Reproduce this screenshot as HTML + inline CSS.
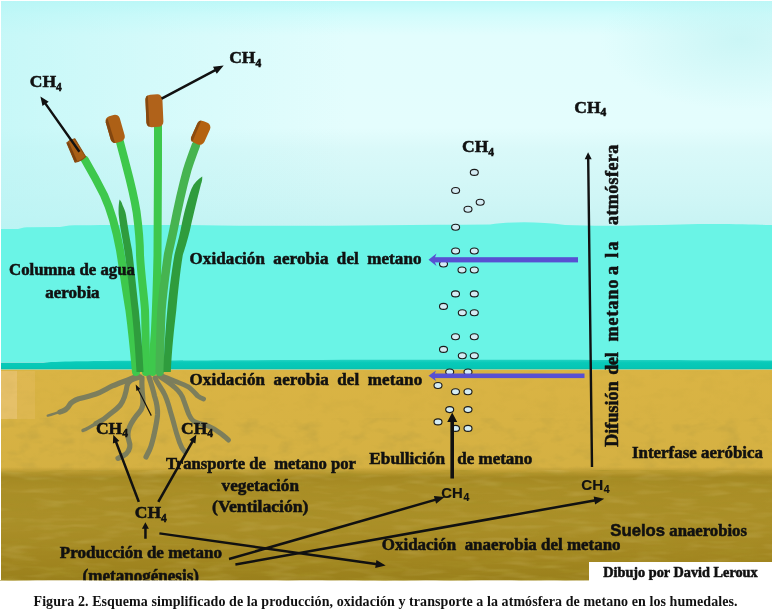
<!DOCTYPE html>
<html><head><meta charset="utf-8">
<style>
html,body{margin:0;padding:0;background:#fff;}
body{width:773px;height:611px;position:relative;overflow:hidden;}
svg{position:absolute;left:0;top:0;filter:blur(0.35px);}
text{font-family:"Liberation Serif",serif;font-weight:bold;fill:#111;stroke:#111;stroke-width:0.55px;}
.s{font-family:"Liberation Sans",sans-serif;font-weight:bold;stroke-width:0.15px;}
</style></head><body>
<svg width="773" height="611" viewBox="0 0 773 611">
<defs>
<linearGradient id="sky" x1="0" y1="0" x2="0" y2="1">
<stop offset="0" stop-color="#bff9f9"/>
<stop offset="0.06" stop-color="#d2fcfc"/>
<stop offset="0.15" stop-color="#e2fdfd"/>
<stop offset="0.55" stop-color="#e4fdfd"/>
<stop offset="0.64" stop-color="#daf9f9"/>
<stop offset="0.85" stop-color="#d0f6f6"/>
<stop offset="1" stop-color="#c6f3f3"/>
</linearGradient>
<linearGradient id="soil1" x1="0" y1="0" x2="0" y2="1">
<stop offset="0" stop-color="#dab444"/>
<stop offset="1" stop-color="#d4b042"/>
</linearGradient>
<linearGradient id="soil2" x1="0" y1="0" x2="0" y2="1">
<stop offset="0" stop-color="#a48822" stop-opacity="0"/>
<stop offset="0.04" stop-color="#a48822" stop-opacity="0.5"/>
<stop offset="0.09" stop-color="#a48822"/>
<stop offset="0.18" stop-color="#aa8e26"/>
<stop offset="0.5" stop-color="#ab8f28"/>
<stop offset="0.8" stop-color="#a28620"/>
<stop offset="1" stop-color="#9a801c"/>
</linearGradient>
<linearGradient id="skyL" x1="0" y1="0" x2="1" y2="0">
<stop offset="0" stop-color="#b4f4f4" stop-opacity="0.6"/>
<stop offset="0.25" stop-color="#b4f4f4" stop-opacity="0.25"/>
<stop offset="0.45" stop-color="#b4f2f2" stop-opacity="0"/>
</linearGradient>
<filter id="tex1" x="0" y="0" width="1" height="1">
<feTurbulence type="fractalNoise" baseFrequency="0.05 0.09" numOctaves="3" seed="4"/>
<feColorMatrix type="matrix" values="0 0 0 0 0.45  0 0 0 0 0.33  0 0 0 0 0.05  2.2 0 0 0 -1.0"/>
</filter>
<filter id="tex2" x="0" y="0" width="1" height="1">
<feTurbulence type="fractalNoise" baseFrequency="0.025 0.18" numOctaves="3" seed="7"/>
<feColorMatrix type="matrix" values="0 0 0 0 0.38  0 0 0 0 0.28  0 0 0 0 0.02  2.6 0 0 0 -1.15"/>
</filter>
<filter id="tex3" x="0" y="0" width="1" height="1">
<feTurbulence type="fractalNoise" baseFrequency="0.03 0.16" numOctaves="2" seed="11"/>
<feColorMatrix type="matrix" values="0 0 0 0 0.85  0 0 0 0 0.75  0 0 0 0 0.35  2.6 0 0 0 -1.25"/>
</filter>
<linearGradient id="teal" x1="0" y1="0" x2="0" y2="1">
<stop offset="0" stop-color="#22d2c2"/>
<stop offset="0.3" stop-color="#08cab9"/>
<stop offset="0.85" stop-color="#06c6b4"/>
<stop offset="1" stop-color="#10b8a2"/>
</linearGradient>
<radialGradient id="skyR" cx="740" cy="40" r="140" gradientUnits="userSpaceOnUse" gradientTransform="translate(740,40) scale(1,0.5) translate(-740,-40)">
<stop offset="0" stop-color="#b8f0f0" stop-opacity="0.55"/>
<stop offset="1" stop-color="#b8f0f0" stop-opacity="0"/>
</radialGradient>
<marker id="ah" viewBox="0 0 10 10" refX="9" refY="5" markerWidth="4" markerHeight="4" orient="auto-start-reverse">
<path d="M0,0 L10,5 L0,10 Z" fill="#111"/>
</marker>
</defs>
<!-- sky -->
<rect x="0" y="1" width="772" height="230" fill="url(#sky)"/>
<rect x="0" y="1" width="772" height="230" fill="url(#skyL)"/>
<rect x="0" y="1" width="772" height="230" fill="url(#skyR)"/>
<!-- water -->
<path d="M0,229 L18,229 C22,227.5 26,227.2 30,227.2 L60,227 C66,225.5 72,225.2 80,225.2 C140,225 180,224.8 220,225.5 C300,226.5 400,225 490,224.5 C510,221.5 540,221.5 565,225 C600,226.5 640,225.5 680,224.5 C720,223.5 750,224.5 772,225 L772,362 L0,362 Z" fill="#6af4e6"/>
<!-- teal band -->
<path d="M0,362.5 L40,362.5 C80,360 200,360.5 300,360 C500,359.5 650,360 772,360.5 L772,369.5 L0,369.5 Z" fill="url(#teal)"/>
<rect x="0" y="369.5" width="772" height="1.6" fill="#a8c274"/>
<!-- soil upper -->
<rect x="0" y="370" width="772" height="112" fill="url(#soil1)"/>
<rect x="0" y="371" width="17" height="48" fill="#eac476" opacity="0.75"/>
<rect x="17" y="371" width="18" height="48" fill="#e4bc62" opacity="0.45"/>
<!-- soil lower -->
<rect x="0" y="467" width="772" height="113.3" fill="url(#soil2)"/>
<rect x="0" y="418" width="772" height="52" filter="url(#tex1)" opacity="0.4"/>
<rect x="0" y="371" width="772" height="47" filter="url(#tex1)" opacity="0.15"/>
<rect x="0" y="470" width="772" height="110.3" filter="url(#tex2)" opacity="0.55"/>
<rect x="0" y="470" width="772" height="110.3" filter="url(#tex3)" opacity="0.15"/>
<!-- left/right white borders -->
<rect x="0" y="0" width="1" height="580" fill="#fff"/>
<!-- credit box -->
<rect x="589" y="562" width="184" height="20" fill="#fff"/>

<!-- roots -->
<g fill="none" stroke="#7c7e5c" stroke-linecap="round" stroke-linejoin="round">
<path stroke-width="5.2" d="M138,376 C130,379 120,383 112.4,385.9 C106,389 102,392 96,394 C90,396 84,397.5 78.8,398.8 C74,400.5 71,402 69.5,405 C67.5,409 64,411 60,412"/>
<path stroke-width="2.5" d="M61,411.5 C56,413 52,414.5 47.8,415.6"/>
<path stroke-width="5.2" d="M140,377 C132,379 128,381 127,386 C126,393 124,400 120.2,405.3 C117,409 114,411 110,414 C106,418 102,420.8 96,423.5"/>
<path stroke-width="3.5" d="M96,423.5 C92,426 88,428.5 83,430.4"/>
<path stroke-width="5.2" d="M142,378 C141.5,386 142.2,392 142.8,398 C143.5,404 143,408 139.5,412 C136,416 132,421 129.5,427 C127.5,432 127.5,437 129,441 C131,446 130,450 126,454 C123,456.5 120,457.5 118,458.3"/>
<path stroke-width="5.2" d="M149,377 C151,383 153,389 154.5,396 C156.5,402 157.8,409 157.5,415 C157,421 155.5,428 154,435 C152.5,441 151.5,446 149.5,450 C148,453 147,455 146,457"/>
<path stroke-width="5" d="M155,378 C158,384 162,389 164.2,393.6 C166.5,398 168,403 169.4,407.9 C171,414 173,420 174.5,426 C176,432 178,438 179.7,442.8 C181,447 183,450 185,452"/>
<path stroke-width="5" d="M159,376 C165,380 170,383 174.5,387.2 C179,391 182,395 183.6,400.1 C185.5,405 187,410 188.8,414.3 C190.5,418 192.5,421 195.2,422.1 C199,424 204,424.5 208.2,426 C213,428 217,430.5 221.1,433.7 C224,436 226.5,438 228.5,440"/>
<path stroke-width="5" d="M160,375 C165,377.5 171,379.5 177.1,382 C181,383.5 185,385 188.8,387.2 C192,389.5 195,393 197.8,396 C199.5,397.5 201.5,398.3 203.5,399"/>
</g>
<!-- plant -->
<g fill="none" stroke-linecap="round" stroke-linejoin="round">
<path d="M85,160 C92,172 98,183 104,195 C110,208 116,228 120,250 C122,262 126,290 129.4,310 C132,330 134,350 136,372" stroke="#3ec84c" stroke-width="8"/>
<path d="M120,142 C122,150 124,157 126,165 C130,180 134,196 136.6,212 C139,230 140,245 140,255 C141,275 144,295 145,310 C145.5,330 146,350 146,372" stroke="#3ec84c" stroke-width="8"/>
<path d="M158,126 C158,170 158,220 157.5,255 C157,280 156,310 155,330 C154,345 153,355 152.5,372" stroke="#3ec84c" stroke-width="8"/>
<path d="M196,145 C193,153 190,161 187.2,170 C183,185 177,212 173.5,230 C171,242 169,250 168,255 C166,270 163,290 161.5,310 C160.5,330 160,350 159.7,372" stroke="#46b450" stroke-width="8.5"/>
</g>
<g stroke="none">
<path d="M119.6,199.5 C121,201 122,203 122.5,205 C124,208 125.5,212 126,215 C128,228 130,240 132,250 C134,265 136.5,290 138.8,310 C140.5,328 142.5,348 143.5,372 L136.5,372 C135,345 133.5,327 131.7,310 C129.5,290 127,270 125,255 C123,240 120,228 118.7,215 C118.3,210 118.7,203 119.6,199.5 Z" fill="#2f9c3d"/>
<path d="M202.2,176.5 C202.5,179 201.8,182 201,184 C198,196 194,212 190,230 C187,242 184.5,250 182.8,255 C180,272 178,292 176.3,310 C174,330 172,348 170.8,372 L163.4,372 C164.2,348 165.5,330 167.3,310 C169,292 171.5,272 174.4,255 C176,248 178.5,240 180.6,230 C184,212 188,198 191.4,189 C194,183 198,179 202.2,176.5 Z" fill="#2f9c3d"/>
</g>
<!-- cattail heads -->
<g>
<g transform="translate(75.8,150.5) rotate(-27)">
<path d="M-4.5,-11 Q0,-12.5 4.5,-11 L6,10 Q0,12 -6,10 Z" fill="#a85f16" stroke="#8a4a10" stroke-width="1" stroke-linejoin="round"/>
<path d="M-4.5,-10.5 L-6,9.5 L-3.5,10 L-2.5,-10.5 Z" fill="#7e440f"/>
</g>
<g transform="translate(115.2,128.8) rotate(-16)">
<rect x="-7.3" y="-13.8" width="14.6" height="27.6" rx="5" fill="#ad6016"/>
<path d="M-7.3,-9 L-7.3,9 Q-7,13 -4,13.5 L-4.5,-12 Q-7,-11 -7.3,-9 Z" fill="#83460f"/>
</g>
<g transform="translate(154.4,110.5) rotate(-2.5)">
<rect x="-8.5" y="-16" width="17" height="32.5" rx="5" fill="#b0621a"/>
<path d="M-8.5,-12 L-8.5,12 Q-8,16 -5.5,16 L-6,-15.5 Q-8,-15 -8.5,-12 Z" fill="#85480f"/>
</g>
<g transform="translate(200.8,132.8) rotate(24)">
<rect x="-7" y="-11.8" width="14" height="23.6" rx="5" fill="#b4620f"/>
<path d="M-7,-8 L-7,8 Q-6.5,11.5 -4,11.8 L-4.5,-11.5 Q-6.5,-11 -7,-8 Z" fill="#8c4c0e"/>
</g>
</g>

<!-- bubbles -->
<g fill="#d4ecf4" stroke="#1a1a1a" stroke-width="1.1">
<ellipse cx="474.3" cy="172.4" rx="4" ry="3"/>
<ellipse cx="455.6" cy="190.5" rx="4" ry="3"/>
<ellipse cx="480.2" cy="202.2" rx="4" ry="3"/>
<ellipse cx="468" cy="209.2" rx="4" ry="3"/>
<ellipse cx="455.6" cy="227.3" rx="4" ry="3"/>
<ellipse cx="455.6" cy="251" rx="4" ry="3"/>
<ellipse cx="474.3" cy="251" rx="4" ry="3"/>
<ellipse cx="443.5" cy="264" rx="4" ry="3"/>
<ellipse cx="462" cy="270" rx="4" ry="3"/>
<ellipse cx="474.3" cy="270" rx="4" ry="3"/>
<ellipse cx="455.5" cy="293.9" rx="4" ry="3"/>
<ellipse cx="474.3" cy="293.9" rx="4" ry="3"/>
<ellipse cx="443.5" cy="306.4" rx="4" ry="3"/>
<ellipse cx="462.3" cy="312.7" rx="4" ry="3"/>
<ellipse cx="474.3" cy="312.7" rx="4" ry="3"/>
<ellipse cx="455.5" cy="336.8" rx="4" ry="3"/>
<ellipse cx="474.3" cy="336.8" rx="4" ry="3"/>
<ellipse cx="443.5" cy="349.4" rx="4" ry="3"/>
<ellipse cx="462.3" cy="355.7" rx="4" ry="3"/>
<ellipse cx="474.3" cy="355.7" rx="4" ry="3"/>
<ellipse cx="449.7" cy="372" rx="4" ry="3"/>
<ellipse cx="468" cy="372" rx="4" ry="3"/>
<ellipse cx="438" cy="385.5" rx="4" ry="3"/>
<ellipse cx="455.5" cy="391.8" rx="4" ry="3"/>
<ellipse cx="468" cy="391.8" rx="4" ry="3"/>
<ellipse cx="449.7" cy="409.6" rx="4" ry="3"/>
<ellipse cx="468" cy="409.6" rx="4" ry="3"/>
<ellipse cx="438" cy="421.9" rx="4" ry="3"/>
<ellipse cx="455.5" cy="428.4" rx="4" ry="3"/>
<ellipse cx="468" cy="428.4" rx="4" ry="3"/>
</g>

<!-- blue arrows -->
<g fill="#5850d2">
<rect x="434" y="257.2" width="144" height="5.2"/>
<path d="M428.5,259.8 L436.5,253.6 L435,257.2 L435,262.4 L436.5,266 Z"/>
<rect x="434" y="373.5" width="150.5" height="4.6"/>
<path d="M428.5,375.8 L436,370.6 L434.8,373.5 L434.8,378.1 L436,381 Z"/>
</g>

<!-- black arrows -->
<g fill="#111">
<path d="M80.4,151.0 L46.6,103.2 L48.7,101.7 L40.4,96.5 L42.5,106.0 L44.6,104.5 L78.4,152.4 Z"/>
<path d="M162.2,99.8 L215.4,71.4 L216.8,73.8 L223.7,65.6 L213.0,66.8 L214.3,69.2 L161.0,97.6 Z"/>
<path d="M593.2,467.0 L589.4,159.2 L591.7,159.2 L588.1,152.2 L584.7,159.2 L587.0,159.2 L590.8,467.0 Z"/>
<path d="M454.0,478.4 L454.0,421.9 L457.2,421.9 L452.2,412.4 L447.2,421.9 L450.4,421.9 L450.4,478.4 Z"/>
<path d="M140.0,501.4 L117.3,441.8 L119.4,441.0 L113.3,434.8 L112.9,443.5 L115.0,442.7 L137.6,502.2 Z"/>
<path d="M159.4,502.4 L193.4,442.4 L195.4,443.5 L196.3,434.8 L189.3,440.0 L191.3,441.1 L157.2,501.2 Z"/>
<path d="M146.7,538.8 L146.7,528.7 L148.9,528.7 L145.4,522.2 L141.9,528.7 L144.2,528.7 L144.2,538.8 Z"/>
<path d="M159.2,534.6 L375.6,565.2 L375.2,568.0 L385.7,565.4 L376.4,560.0 L376.0,562.8 L159.6,532.2 Z"/>
<path d="M229.3,560.2 L435.3,501.1 L436.1,503.7 L444.6,497.1 L433.9,496.0 L434.6,498.7 L228.7,557.8 Z"/>
<path d="M235.6,565.7 L594.6,501.7 L595.1,504.4 L604.2,498.7 L593.7,496.5 L594.1,499.2 L235.2,563.3 Z"/>
<path d="M151.8,415.3 L138.9,389.7 L140.4,388.9 L135.7,384.6 L136.4,391.0 L137.9,390.2 L150.8,415.9 Z"/>
</g>


<!-- texts -->
<clipPath id="imgclip"><rect x="0" y="0" width="772" height="580.3"/></clipPath>
<g clip-path="url(#imgclip)">
<text x="29.8" y="87.1" font-size="17.5">CH<tspan font-size="11.5" dy="3.5">4</tspan></text>
<text x="229.2" y="63.3" font-size="17.5">CH<tspan font-size="11.5" dy="3.5">4</tspan></text>
<text x="574.3" y="112.7" font-size="17.5">CH<tspan font-size="11.5" dy="3.5">4</tspan></text>
<text x="462.1" y="152" font-size="17.5">CH<tspan font-size="11.5" dy="3.5">4</tspan></text>
<text x="95.9" y="433.5" font-size="17.5">CH<tspan font-size="11.5" dy="3.5">4</tspan></text>
<text x="181" y="433.5" font-size="17.5">CH<tspan font-size="11.5" dy="3.5">4</tspan></text>
<text x="134.8" y="518.4" font-size="17.5">CH<tspan font-size="11.5" dy="3.5">4</tspan></text>
<text class="s" x="441.2" y="497.6" font-size="15.5" textLength="21.5" lengthAdjust="spacingAndGlyphs">CH</text><text class="s" x="463.6" y="500.5" font-size="10.5">4</text>
<text class="s" x="581.2" y="490" font-size="15.5" textLength="22" lengthAdjust="spacingAndGlyphs">CH</text><text class="s" x="603.8" y="493" font-size="10.5">4</text>

<text x="9.1" y="275.3" font-size="17" textLength="125.8" lengthAdjust="spacingAndGlyphs">Columna de agua</text>
<text x="45.3" y="297.6" font-size="17" textLength="54.3" lengthAdjust="spacingAndGlyphs">aerobia</text>
<text x="189.5" y="263.9" font-size="17" word-spacing="4" textLength="232" lengthAdjust="spacing">Oxidación aerobia del metano</text>
<text x="189.4" y="384.5" font-size="17" word-spacing="4" textLength="232.8" lengthAdjust="spacing">Oxidación aerobia del metano</text>
<text x="165.9" y="469.4" font-size="17" textLength="190" lengthAdjust="spacingAndGlyphs" xml:space="preserve">Transporte de  metano por</text>
<text x="221.6" y="491" font-size="17" textLength="77.4" lengthAdjust="spacingAndGlyphs">vegetación</text>
<text x="212" y="512" font-size="17.5" textLength="96.5" lengthAdjust="spacingAndGlyphs">(Ventilación)</text>
<text x="59.8" y="557.7" font-size="17" textLength="162.2" lengthAdjust="spacingAndGlyphs">Producción de metano</text>
<text x="82.5" y="582" font-size="18" textLength="116.5" lengthAdjust="spacingAndGlyphs">(metanogénesis)</text>
<text x="369.3" y="464" font-size="17" textLength="75.7" lengthAdjust="spacingAndGlyphs">Ebullición</text>
<text x="457.3" y="464" font-size="17" textLength="75" lengthAdjust="spacingAndGlyphs">de metano</text>
<text x="632" y="457.8" font-size="17" textLength="131" lengthAdjust="spacingAndGlyphs">Interfase aeróbica</text>
<text x="610.3" y="536.3" font-size="17" textLength="136.7" lengthAdjust="spacingAndGlyphs"><tspan style="font-family:'Liberation Sans',sans-serif;font-weight:bold">Suelos</tspan> anaerobios</text>
<text x="381.8" y="550.2" font-size="17" textLength="238.8" lengthAdjust="spacingAndGlyphs" xml:space="preserve">Oxidación  anaerobia del metano</text>
<text x="603.2" y="576.9" font-size="14.3" textLength="154.5" lengthAdjust="spacingAndGlyphs">Dibujo por David Leroux</text>

<!-- vertical text -->
<g font-size="18" style="stroke-width:0.25px">
<text transform="translate(618,446.8) rotate(-90)" textLength="65.5" lengthAdjust="spacing">Difusión</text>
<text transform="translate(618,374.8) rotate(-90)" textLength="22.6" lengthAdjust="spacing">del</text>
<text transform="translate(618,341.4) rotate(-90)" textLength="62" lengthAdjust="spacing">metano</text>
<text transform="translate(618,274.9) rotate(-90)" textLength="8.1" lengthAdjust="spacing">a</text>
<text transform="translate(618,257.7) rotate(-90)" textLength="16.2" lengthAdjust="spacing">la</text>
<text transform="translate(618,225) rotate(-90)" textLength="80.2" lengthAdjust="spacing">atmósfera</text>
</g>

</g>
<!-- caption -->
<text x="33.5" y="606" font-size="14" style="stroke-width:0" textLength="704" lengthAdjust="spacing">Figura 2. Esquema simplificado de la producción, oxidación y transporte a la atmósfera de metano en los humedales.</text>
</svg>
</body></html>
